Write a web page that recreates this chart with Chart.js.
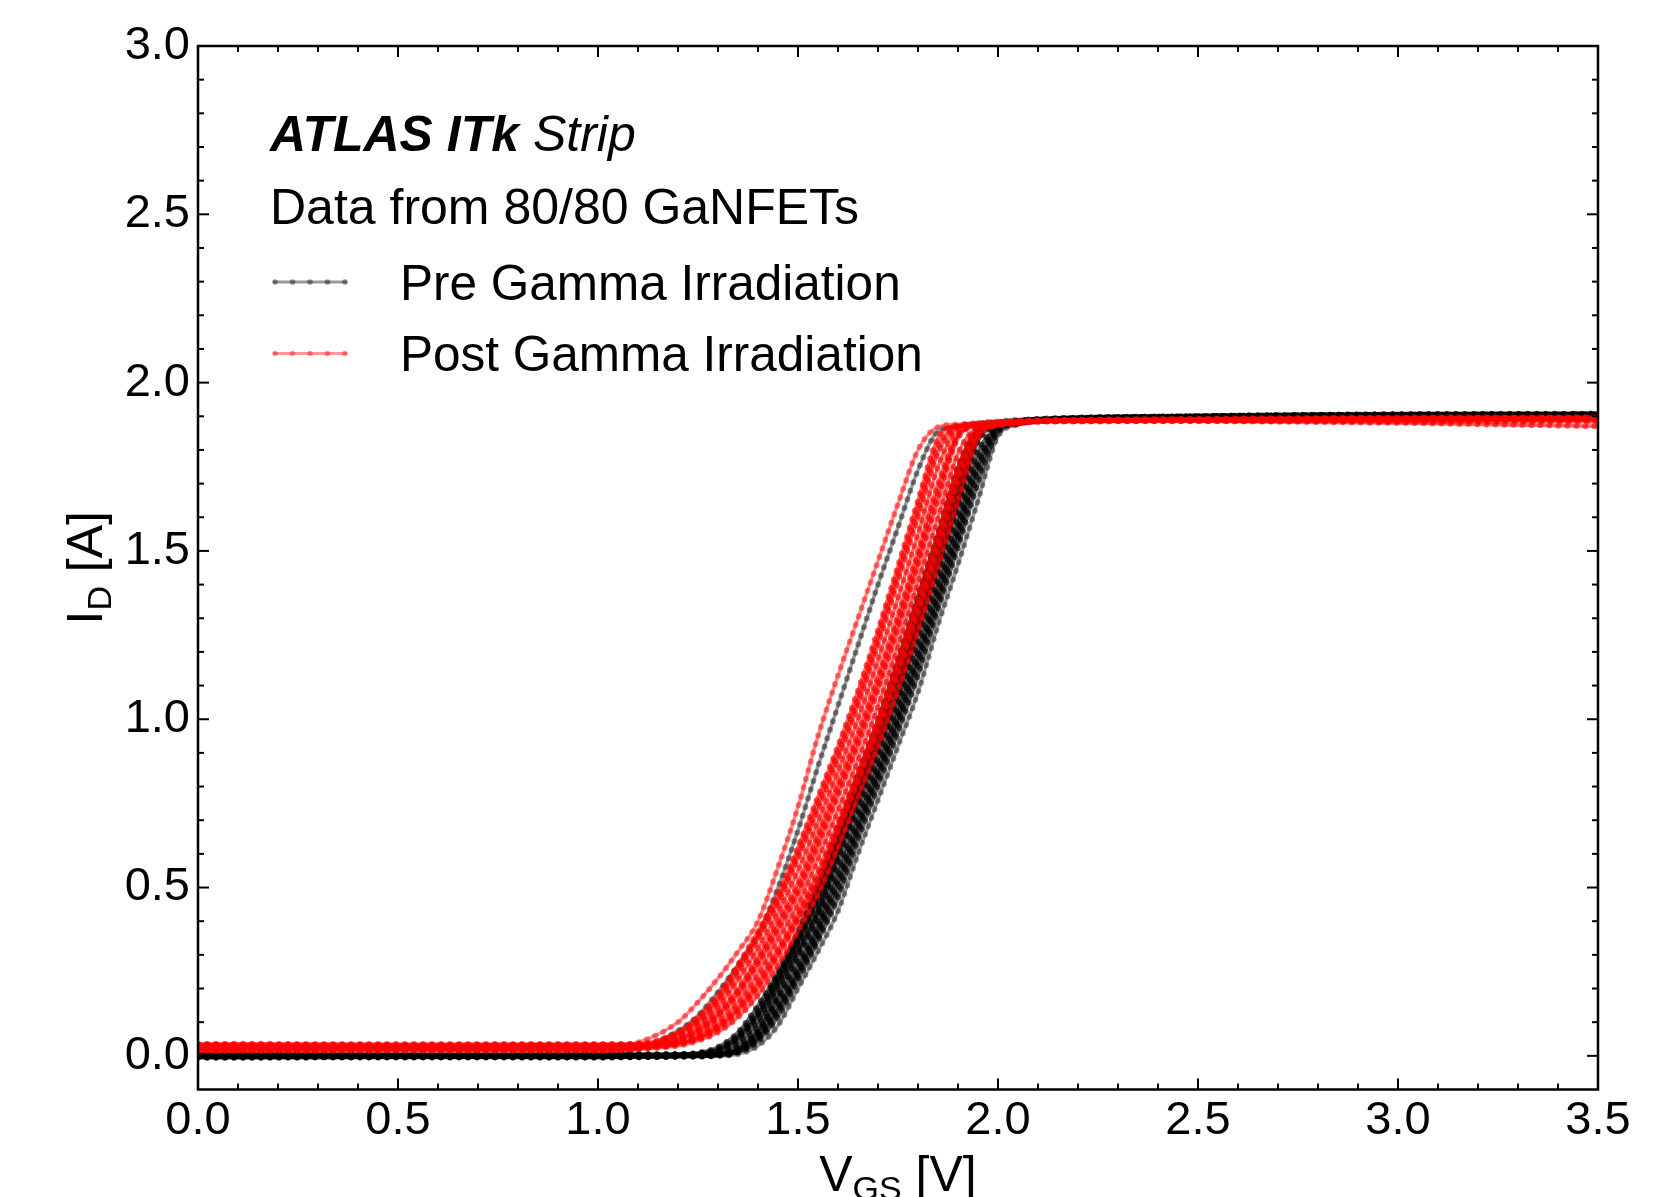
<!DOCTYPE html>
<html>
<head>
<meta charset="utf-8">
<title>GaNFET transfer curves</title>
<script src="https://cdn.jsdelivr.net/npm/chart.js@4.4.1/dist/chart.umd.min.js"></script>
<style>
  html, body { margin: 0; padding: 0; background: #fff; }
  canvas { display: block; }
</style>
</head>
<body>
<canvas id="ivChart" width="1678" height="1197"></canvas>
<script>
// gate voltage of every sweep point [V]
const vgs = [0.0, 0.5, 1.0, 1.1, 1.2, 1.25, 1.3, 1.35, 1.4, 1.45, 1.5, 1.55, 1.6, 1.65, 1.7, 1.75, 1.8, 1.85, 1.9, 1.95, 2.0, 2.05, 2.1, 2.5, 3.0, 3.5]

// drain current [A] before irradiation
const pre01 = [0.004, 0.003, 0.004, 0.004, 0.005, 0.009, 0.026, 0.07, 0.15, 0.25, 0.37, 0.515, 0.68, 0.84, 1.0, 1.18, 1.37, 1.555, 1.75, 1.865, 1.88, 1.887, 1.892, 1.9, 1.905, 1.906]
const pre02 = [-0.004, -0.003, -0.004, -0.002, 0.001, 0.004, 0.014, 0.05, 0.12, 0.225, 0.34, 0.47, 0.64, 0.8, 0.96, 1.13, 1.325, 1.51, 1.7, 1.855, 1.878, 1.886, 1.891, 1.899, 1.904, 1.905]
const pre03 = [0.002, 0.001, 0.002, 0.002, 0.002, 0.003, 0.006, 0.03, 0.09, 0.2, 0.31, 0.43, 0.6, 0.76, 0.92, 1.08, 1.28, 1.46, 1.65, 1.84, 1.875, 1.885, 1.89, 1.9, 1.906, 1.908]
const pre04 = [-0.006, -0.005, -0.005, -0.004, -0.002, 0.0, 0.004, 0.022, 0.072, 0.17, 0.28, 0.4, 0.558, 0.72, 0.88, 1.04, 1.23, 1.415, 1.6, 1.795, 1.87, 1.883, 1.888, 1.898, 1.903, 1.904]
const pre05 = [0.006, 0.005, 0.005, 0.005, 0.005, 0.005, 0.006, 0.016, 0.055, 0.14, 0.25, 0.37, 0.515, 0.68, 0.84, 1.0, 1.18, 1.37, 1.555, 1.75, 1.865, 1.88, 1.886, 1.897, 1.902, 1.903]
const pre06 = [-0.002, -0.002, -0.001, -0.002, -0.001, -0.001, 0.001, 0.01, 0.043, 0.115, 0.225, 0.34, 0.47, 0.64, 0.8, 0.96, 1.13, 1.325, 1.51, 1.7, 1.852, 1.878, 1.887, 1.898, 1.904, 1.905]
const pre07 = [0.003, 0.003, 0.002, 0.003, 0.003, 0.003, 0.005, 0.02, 0.075, 0.18, 0.3, 0.42, 0.585, 0.745, 0.905, 1.065, 1.26, 1.445, 1.635, 1.825, 1.873, 1.884, 1.889, 1.899, 1.905, 1.906]
const pre08 = [-0.005, -0.004, -0.005, -0.004, -0.003, -0.002, 0.001, 0.012, 0.05, 0.13, 0.24, 0.355, 0.495, 0.665, 0.825, 0.985, 1.16, 1.35, 1.535, 1.73, 1.86, 1.879, 1.886, 1.897, 1.903, 1.904]
const pre09 = [0.001, 0.0, 0.001, 0.002, 0.003, 0.006, 0.018, 0.055, 0.125, 0.23, 0.345, 0.48, 0.645, 0.805, 0.965, 1.14, 1.33, 1.52, 1.71, 1.857, 1.879, 1.886, 1.89, 1.899, 1.904, 1.905]
const pre10 = [0.005, 0.004, 0.004, 0.004, 0.005, 0.007, 0.02, 0.06, 0.135, 0.24, 0.355, 0.495, 0.66, 0.82, 0.98, 1.155, 1.35, 1.535, 1.725, 1.86, 1.879, 1.886, 1.891, 1.9, 1.904, 1.905]
const pre11 = [-0.003, -0.003, -0.002, -0.003, -0.002, 0.0, 0.003, 0.017, 0.062, 0.152, 0.262, 0.382, 0.535, 0.698, 0.858, 1.018, 1.2, 1.39, 1.575, 1.77, 1.867, 1.881, 1.887, 1.898, 1.903, 1.904]
const pre12 = [0.0, 0.0, 0.001, 0.001, 0.002, 0.003, 0.01, 0.04, 0.105, 0.212, 0.325, 0.45, 0.62, 0.78, 0.94, 1.105, 1.3, 1.485, 1.675, 1.848, 1.877, 1.886, 1.89, 1.9, 1.905, 1.906]
// the two sweeps that sit apart from the bulk
const preEarly = [0.002, 0.003, 0.005, 0.02, 0.075, 0.12, 0.19, 0.27, 0.36, 0.5, 0.67, 0.86, 1.04, 1.22, 1.4, 1.57, 1.74, 1.855, 1.87, 1.88, 1.885, 1.89, 1.89, 1.9, 1.905, 1.905]
const preLate = [-0.003, -0.004, -0.003, -0.003, -0.002, -0.002, -0.001, 0.005, 0.03, 0.09, 0.2, 0.31, 0.43, 0.6, 0.76, 0.92, 1.08, 1.28, 1.46, 1.65, 1.84, 1.875, 1.885, 1.9, 1.906, 1.907]

// drain current [A] after irradiation
const post01 = [0.034, 0.033, 0.034, 0.036, 0.07, 0.115, 0.18, 0.27, 0.37, 0.48, 0.62, 0.77, 0.92, 1.085, 1.265, 1.455, 1.65, 1.835, 1.872, 1.877, 1.882, 1.885, 1.887, 1.892, 1.895, 1.896]
const post02 = [0.016, 0.017, 0.016, 0.024, 0.063, 0.1, 0.16, 0.245, 0.345, 0.45, 0.585, 0.73, 0.88, 1.04, 1.22, 1.41, 1.6, 1.79, 1.867, 1.876, 1.881, 1.884, 1.886, 1.89, 1.893, 1.894]
const post03 = [0.028, 0.027, 0.028, 0.03, 0.056, 0.09, 0.145, 0.225, 0.32, 0.425, 0.55, 0.695, 0.845, 1.0, 1.175, 1.36, 1.55, 1.75, 1.862, 1.875, 1.88, 1.884, 1.886, 1.889, 1.892, 1.893]
const post04 = [0.018, 0.019, 0.018, 0.024, 0.05, 0.08, 0.13, 0.2, 0.295, 0.4, 0.515, 0.66, 0.81, 0.96, 1.13, 1.31, 1.5, 1.7, 1.848, 1.873, 1.88, 1.884, 1.886, 1.888, 1.89, 1.89]
const post05 = [0.032, 0.031, 0.032, 0.033, 0.047, 0.07, 0.115, 0.18, 0.27, 0.37, 0.48, 0.62, 0.77, 0.92, 1.085, 1.265, 1.455, 1.65, 1.835, 1.872, 1.88, 1.883, 1.885, 1.887, 1.888, 1.889]
const post06 = [0.014, 0.015, 0.015, 0.019, 0.037, 0.061, 0.1, 0.16, 0.245, 0.345, 0.45, 0.585, 0.73, 0.88, 1.04, 1.22, 1.41, 1.6, 1.79, 1.867, 1.877, 1.882, 1.885, 1.886, 1.884, 1.884]
const post07 = [0.026, 0.025, 0.026, 0.027, 0.037, 0.056, 0.09, 0.145, 0.225, 0.32, 0.425, 0.55, 0.695, 0.845, 1.0, 1.175, 1.36, 1.55, 1.75, 1.862, 1.875, 1.88, 1.885, 1.89, 1.893, 1.894]
const post08 = [0.036, 0.035, 0.035, 0.035, 0.038, 0.05, 0.08, 0.13, 0.2, 0.295, 0.4, 0.515, 0.66, 0.81, 0.96, 1.13, 1.31, 1.5, 1.7, 1.848, 1.873, 1.879, 1.884, 1.888, 1.891, 1.892]
const post09 = [0.02, 0.021, 0.02, 0.022, 0.03, 0.045, 0.07, 0.115, 0.18, 0.27, 0.37, 0.48, 0.62, 0.77, 0.92, 1.085, 1.265, 1.455, 1.65, 1.835, 1.872, 1.878, 1.884, 1.885, 1.88, 1.87]
const post10 = [0.03, 0.029, 0.03, 0.031, 0.066, 0.107, 0.17, 0.257, 0.357, 0.465, 0.602, 0.75, 0.9, 1.062, 1.242, 1.432, 1.625, 1.812, 1.87, 1.877, 1.882, 1.885, 1.887, 1.891, 1.894, 1.895]
const post11 = [0.022, 0.023, 0.022, 0.026, 0.047, 0.075, 0.122, 0.19, 0.282, 0.385, 0.497, 0.64, 0.79, 0.94, 1.107, 1.287, 1.477, 1.675, 1.842, 1.873, 1.88, 1.884, 1.886, 1.889, 1.89, 1.891]
const post12 = [0.024, 0.024, 0.023, 0.025, 0.035, 0.053, 0.085, 0.138, 0.212, 0.307, 0.412, 0.532, 0.677, 0.827, 0.98, 1.152, 1.335, 1.525, 1.725, 1.855, 1.874, 1.88, 1.885, 1.889, 1.892, 1.893]
const postEarly = [0.025, 0.024, 0.025, 0.04, 0.1, 0.16, 0.23, 0.31, 0.4, 0.56, 0.74, 0.95, 1.13, 1.3, 1.47, 1.64, 1.8, 1.868, 1.876, 1.88, 1.884, 1.886, 1.888, 1.893, 1.897, 1.898]

const preBulk = [pre01, pre02, pre03, pre04, pre05, pre06, pre07, pre08, pre09, pre10, pre11, pre12]
const preApart = [preEarly, preLate]
const postBulk = [post01, post02, post03, post04, post05, post06, post07, post08, post09, post10, post11, post12]
const postApart = [postEarly]

const xTicks = [0.0, 0.5, 1.0, 1.5, 2.0, 2.5, 3.0, 3.5]
const yTicks = [0.0, 0.5, 1.0, 1.5, 2.0, 2.5, 3.0]

// bulk sweeps are stacked many times over, so they read darker than lone ones
const preBulkColor = 'rgba(0, 0, 0, 0.6)'
const preColor = 'rgba(0, 0, 0, 0.4)'
const postBulkColor = 'rgba(255, 0, 0, 0.6)'
const postColor = 'rgba(255, 0, 0, 0.45)'
const legendItems = [
    { label: 'Pre Gamma Irradiation', color: 'rgba(0, 0, 0, 0.4)' },
    { label: 'Post Gamma Irradiation', color: 'rgba(255, 0, 0, 0.4)' },
]

const FONT = '"Liberation Sans", Arial, Helvetica, sans-serif'

const toPoints = (current) => vgs.map((v, i) => ({ x: v, y: current[i] }))

// every sweep is a line plus a row of round beads (dash with round caps)
const sweepDatasets = (curves, color, order) => curves.flatMap(current => [
    {
        data: toPoints(current),
        showLine: true,
        borderColor: color,
        borderWidth: 3.5,
        pointRadius: 0,
        cubicInterpolationMode: 'monotone',
        clip: 0,
        order: order,
    },
    {
        data: toPoints(current),
        showLine: true,
        borderColor: color,
        borderWidth: 6,
        borderDash: [0, 9],
        borderCapStyle: 'round',
        pointRadius: 0,
        cubicInterpolationMode: 'monotone',
        clip: 0,
        order: order,
    },
])

// frame, inward ticks on all four sides, axis titles and the text block
const framePlugin = {
    id: 'frame',
    afterDraw(chart) {
        const { ctx, chartArea: a, scales: { x, y } } = chart
        const line = (x1, y1, x2, y2) => {
            ctx.beginPath()
            ctx.moveTo(x1, y1)
            ctx.lineTo(x2, y2)
            ctx.stroke()
        }
        ctx.save()
        ctx.strokeStyle = '#000'
        ctx.lineWidth = 2
        for (let i = 0; i <= 35; i++) {
            const px = x.getPixelForValue(i / 10)
            const len = i % 5 === 0 ? 11 : 6
            line(px, a.bottom, px, a.bottom - len)
            line(px, a.top, px, a.top + len)
        }
        for (let i = 0; i <= 30; i++) {
            const py = y.getPixelForValue(i / 10)
            const len = i % 5 === 0 ? 11 : 6
            line(a.left, py, a.left + len, py)
            line(a.right, py, a.right - len, py)
        }
        ctx.lineWidth = 2.5
        ctx.strokeRect(a.left, a.top, a.right - a.left, a.bottom - a.top)

        ctx.fillStyle = '#000'
        ctx.textBaseline = 'alphabetic'
        ctx.textAlign = 'left'

        // x title: V_GS [V]
        const big = '50px ' + FONT
        const sub = '34px ' + FONT
        ctx.font = big
        const wV = ctx.measureText('V').width
        const wRest = ctx.measureText(' [V]').width
        ctx.font = sub
        const wGS = ctx.measureText('GS').width
        let tx = (a.left + a.right) / 2 - (wV + wGS + wRest) / 2
        const ty = 1191
        ctx.font = big
        ctx.fillText('V', tx, ty)
        ctx.font = sub
        ctx.fillText('GS', tx + wV, ty + 9)
        ctx.font = big
        ctx.fillText(' [V]', tx + wV + wGS, ty)

        // y title: I_D [A]
        ctx.save()
        ctx.translate(102, (a.top + a.bottom) / 2)
        ctx.rotate(-Math.PI / 2)
        ctx.font = big
        const wI = ctx.measureText('I').width
        const wA = ctx.measureText(' [A]').width
        ctx.font = sub
        const wD = ctx.measureText('D').width
        tx = -(wI + wD + wA) / 2
        ctx.font = big
        ctx.fillText('I', tx, 0)
        ctx.font = sub
        ctx.fillText('D', tx + wI, 9)
        ctx.font = big
        ctx.fillText(' [A]', tx + wI + wD, 0)
        ctx.restore()

        // experiment label
        const left = a.left + 72
        ctx.font = 'italic bold 50px ' + FONT
        ctx.fillText('ATLAS ITk', left, a.top + 105)
        const wAtlas = ctx.measureText('ATLAS ITk ').width
        ctx.font = 'italic 50px ' + FONT
        ctx.fillText('Strip', left + wAtlas, a.top + 105)
        ctx.font = big
        ctx.fillText('Data from 80/80 GaNFETs', left, a.top + 177.5)

        // legend entries
        legendItems.forEach((item, i) => {
            const ly = a.top + 236 + i * 71.5
            ctx.strokeStyle = item.color
            ctx.fillStyle = item.color
            ctx.lineWidth = 3
            line(left + 3, ly, left + 77, ly)
            for (let k = 0; k < 5; k++) {
                ctx.beginPath()
                ctx.arc(left + 5 + k * 17.5, ly, 2.8, 0, Math.PI * 2)
                ctx.fill()
            }
            ctx.fillStyle = '#000'
            ctx.font = '49.5px ' + FONT
            ctx.fillText(item.label, left + 130, ly + 17.5)
        })
        ctx.restore()
    }
}

const tickFont = { family: FONT, size: 47 }

new Chart(document.getElementById('ivChart'), {
    type: 'scatter',
    data: {
        datasets: [
            ...sweepDatasets(preBulk, preBulkColor, 4),
            ...sweepDatasets(preApart, preColor, 3),
            ...sweepDatasets(postBulk, postBulkColor, 2),
            ...sweepDatasets(postApart, postColor, 1),
        ]
    },
    options: {
        responsive: false,
        devicePixelRatio: 1,
        animation: false,
        events: [],
        layout: { padding: { top: 46, right: 80, left: 0, bottom: 0 } },
        plugins: {
            legend: { display: false },
            tooltip: { enabled: false },
        },
        scales: {
            x: {
                type: 'linear',
                min: 0,
                max: 3.5,
                grid: { display: false, drawTicks: false },
                border: { display: false },
                ticks: {
                    font: tickFont,
                    color: '#000',
                    padding: 3,
                    maxRotation: 0,
                    callback: (v) => Number(v).toFixed(1),
                },
                afterBuildTicks: (scale) => { scale.ticks = xTicks.map(value => ({ value })) },
                afterFit: (scale) => { scale.height = 107.5 },
            },
            y: {
                type: 'linear',
                min: -0.1,
                max: 3.0,
                grid: { display: false, drawTicks: false },
                border: { display: false },
                ticks: {
                    font: tickFont,
                    color: '#000',
                    padding: 8,
                    callback: (v) => Number(v).toFixed(1),
                },
                afterBuildTicks: (scale) => { scale.ticks = yTicks.map(value => ({ value })) },
                afterFit: (scale) => { scale.width = 198 },
            },
        },
    },
    plugins: [framePlugin],
})
</script>
</body>
</html>
